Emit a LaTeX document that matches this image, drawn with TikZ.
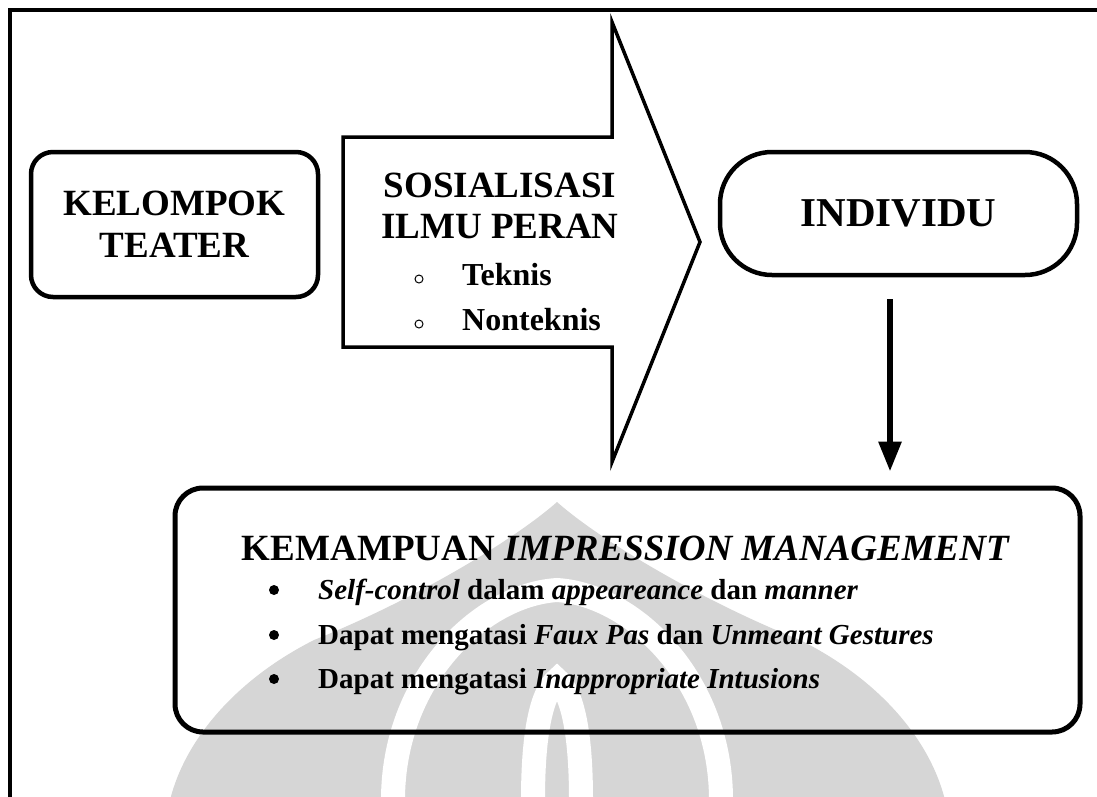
\documentclass[tikz,border=0pt]{standalone}
\usepackage{fontspec}
\setmainfont{Liberation Serif}
\usetikzlibrary{arrows.meta,positioning}
\definecolor{WMGray}{HTML}{D6D6D6}

\begin{document}
\begin{tikzpicture}[
        x=1pt, y=-1pt,
        box/.style={draw, line width=4.5pt, rounded corners=22pt, align=center,
          font=\fontsize{37}{42}\selectfont\bfseries},
        bigtxt/.style={anchor=base, inner sep=0pt, font=\fontsize{37}{41}\selectfont\bfseries},
        listtxt/.style={anchor=base west, inner sep=0pt, font=\fontsize{32}{36}\selectfont\bfseries},
        itemtxt/.style={anchor=base west, inner sep=0pt, font=\fontsize{29}{33}\selectfont\bfseries},
        hollow/.style={circle, draw, line width=1pt, inner sep=0pt, minimum size=8pt},
        dot/.style={circle, fill, inner sep=0pt, minimum size=10pt},
        arrow/.style={-{Triangle[width=22pt,length=30pt]}, line width=6pt},
        wmark/.style={fill=WMGray}
      ]
        \useasboundingbox (0,0) rectangle (1097,796);
        % watermark
        \fill[wmark] (557,502) .. controls (600,540) and (700,600) .. (800,640)
          .. controls (880,680) and (930,740) .. (945,800) -- (170,800)
          .. controls (185,740) and (235,680) .. (314,640)
          .. controls (414,600) and (514,540) .. cycle;
        \draw[white, line width=24pt] (393,800) .. controls (393,680) and (480,595) .. (557,590)
          .. controls (634,595) and (721,680) .. (721,800);
        \draw[white, line width=24pt] (533,800) .. controls (533,720) and (545,690) .. (557,680)
          .. controls (569,690) and (581,720) .. (581,800);
        % frame
        \draw[line width=4pt] (10,800) -- (10,10) -- (1100,10);

        \node[box, minimum width=287pt, minimum height=145pt] (kelompok) at (174.5,224.5) {KELOMPOK\\TEATER};
        \node[box, rounded corners=52pt, minimum width=357pt, minimum height=123pt,
          font=\fontsize{41}{45}\selectfont\bfseries] (individu) at (898.5,213.5) {INDIVIDU};

        % big arrow
        \draw[line width=3.5pt, miter limit=10] (343,137) -- (612,137) -- (612,22) -- (700,242)
          -- (612,462) -- (612,347) -- (343,347) -- cycle;
        \node[bigtxt] (sos1) at (500,197) {SOSIALISASI};
        \node[bigtxt] (sos2) at (500,238) {ILMU PERAN};
        \node[listtxt] (teknis) at (462,285) {Teknis};
        \node[listtxt] (nontek) at (462,330) {Nonteknis};
        \node[hollow] (o1) at (419,279) {};
        \node[hollow] (o2) at (419,324) {};

        \node[box, rounded corners=28pt, line width=5pt, minimum width=905pt, minimum height=244pt] (kemampuan) at (627.5,610) {};
        \draw[arrow, shorten <=22pt, shorten >=14pt] ([xshift=-8.5pt]individu.south) -- ([xshift=-8.5pt]individu.south |- kemampuan.north);

        \node[bigtxt] (judul) at (626,560) {KEMAMPUAN \textit{IMPRESSION MANAGEMENT}};
        \node[itemtxt] (item1) at (318,599) {\textit{Self-control} dalam \textit{appeareance} dan \textit{manner}};
        \node[itemtxt] (item2) at (318,644) {Dapat mengatasi \textit{Faux Pas} dan \textit{Unmeant Gestures}};
        \node[itemtxt] (item3) at (318,688) {Dapat mengatasi \textit{Inappropriate Intusions}};
        \foreach \y in {590,635,679}
          \node[dot] at (274,\y) {};
      \end{tikzpicture}
\end{document}
